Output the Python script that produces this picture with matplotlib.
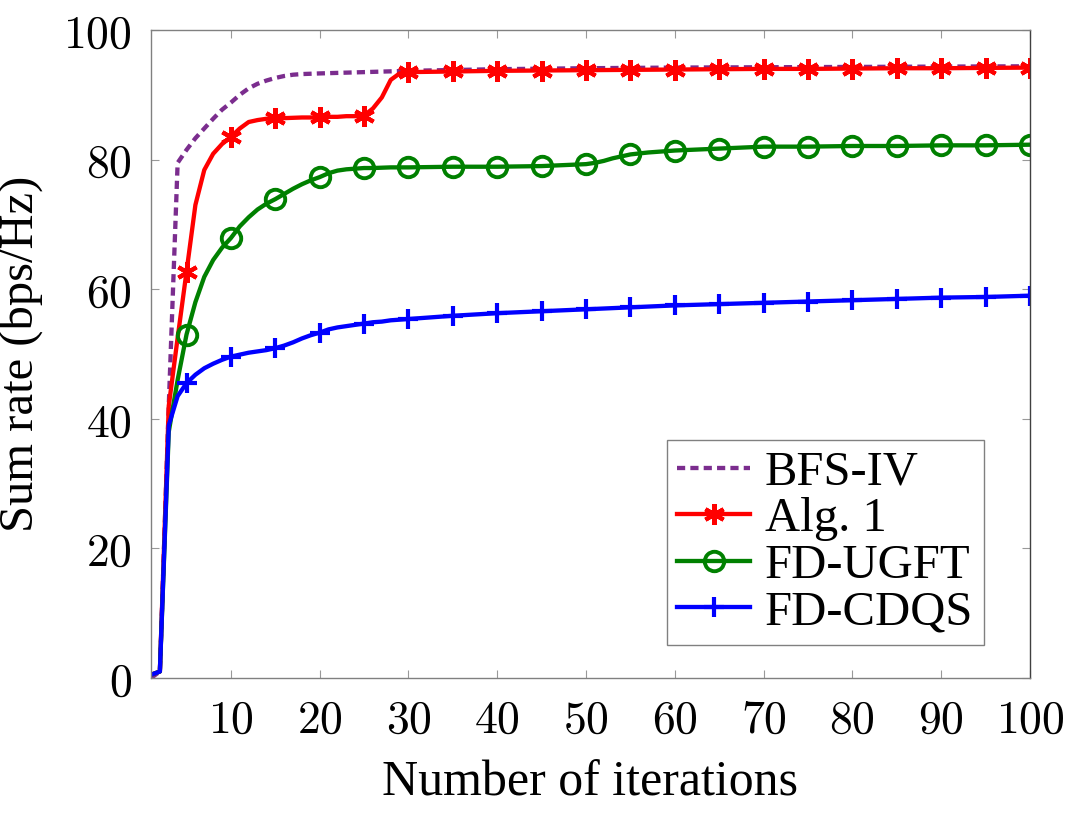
import matplotlib
matplotlib.use("Agg")
import matplotlib.pyplot as plt
import numpy as np

# ---------------- data ----------------
bfs_x = [1, 2, 3, 4, 5, 6, 7, 8, 9, 10, 11, 12, 13, 14, 15, 16, 17, 18, 19, 20,
         25, 30, 40, 50, 60, 70, 80, 90, 100]
bfs_y = [0.0, 1.0, 42.0, 79.5, 81.5, 83.3, 84.8, 86.3, 87.7, 88.8, 90.0, 91.0, 91.7, 92.2, 92.6,
         92.9, 93.1, 93.2, 93.25, 93.3, 93.5, 93.7, 93.95, 94.1, 94.2, 94.25, 94.3, 94.35, 94.4]

alg_x = list(range(1, 31)) + [35, 40, 45, 50, 55, 60, 65, 70, 75, 80, 85, 90, 95, 100]
alg_y = [0.5, 1.0, 42.0, 52.5, 62.7, 73.0, 78.4, 80.9, 82.4, 83.5,
         84.8, 85.8, 86.1, 86.3, 86.4, 86.4, 86.45, 86.5, 86.5, 86.5,
         86.6, 86.6, 86.7, 86.7, 86.8, 87.9, 89.6, 92.3, 93.3, 93.5,
         93.6, 93.7, 93.75, 93.8, 93.85, 93.9, 93.95, 94.0, 94.0, 94.05, 94.1, 94.1, 94.15, 94.2]

ugft_x = list(range(1, 31)) + [35, 40, 45, 50, 51, 52, 53, 54, 55, 57, 60, 65, 70, 75, 80, 85, 90, 95, 100]
ugft_y = [0.5, 1.0, 38.0, 46.0, 53.0, 58.0, 61.9, 64.5, 66.4, 67.9,
          69.7, 71.1, 72.3, 73.2, 73.9, 74.7, 75.5, 76.2, 76.8, 77.3,
          77.9, 78.3, 78.5, 78.6, 78.7, 78.7, 78.75, 78.8, 78.8, 78.8,
          78.9, 78.9, 79.0, 79.3, 79.5, 79.8, 80.2, 80.5, 80.8, 81.1, 81.4, 81.7,
          82.0, 82.0, 82.1, 82.1, 82.2, 82.2, 82.3]

cdqs_x = list(range(1, 31)) + [35, 40, 45, 50, 55, 60, 65, 70, 75, 80, 85, 90, 95, 100]
cdqs_y = [0.5, 1.0, 39.0, 43.5, 45.5, 46.8, 47.8, 48.5, 49.1, 49.6,
          49.9, 50.2, 50.4, 50.6, 50.9, 51.3, 51.8, 52.4, 52.9, 53.3,
          53.8, 54.1, 54.3, 54.5, 54.7, 54.9, 55.0, 55.2, 55.3, 55.4,
          55.9, 56.3, 56.6, 56.9, 57.2, 57.5, 57.7, 57.9, 58.1, 58.3, 58.5, 58.7, 58.8, 59.0]

labels = ["BFS-IV", "Alg. 1", "FD-UGFT", "FD-CDQS"]
xticks = [10, 20, 30, 40, 50, 60, 70, 80, 90, 100]
yticks = [0, 20, 40, 60, 80, 100]

# ---------------- style ----------------
plt.rcParams["mathtext.fontset"] = "cm"
SERIF = ["Liberation Serif", "DejaVu Serif"]

fig = plt.figure(figsize=(10.69, 8.17), dpi=100)
ax = fig.add_axes([151 / 1069, 1 - 678 / 817, (1030 - 151) / 1069, (678 - 30) / 817])

def mark_idx(xs):
    return [i for i, v in enumerate(xs) if v % 5 == 0]

lw = 3.1
ax.plot(bfs_x, bfs_y, color="#7B2D8E", lw=lw, linestyle=(0, (1.9, 1.2)),
        label=labels[0])
ax.plot(alg_x, alg_y, color="#FF0000", lw=lw, marker=(6, 2, 0), markersize=15,
        mew=3.0, markevery=mark_idx(alg_x), label=labels[1])
ax.plot(ugft_x, ugft_y, color="#008000", lw=lw, marker="o", markersize=14,
        mfc="none", mew=2.8, markevery=mark_idx(ugft_x), label=labels[2])
ax.plot(cdqs_x, cdqs_y, color="#0000FF", lw=lw, marker="+", markersize=15,
        mew=3.0, markevery=mark_idx(cdqs_x), label=labels[3])

ax.set_xlim(1, 100)
ax.set_ylim(0, 100)
ax.set_xticks(xticks)
ax.set_yticks(yticks)
ax.set_xticklabels([f"${t}$" for t in xticks])
ax.set_yticklabels([f"${t}$" for t in yticks])
ax.tick_params(axis="both", direction="in", length=6, width=0.8, color="#999999",
               top=True, right=True, labelsize=33, pad=14)

for name, sp in ax.spines.items():
    sp.set_color("#808080")
    sp.set_linewidth(1.0)
ax.spines["right"].set_color("#404040")

ax.set_xlabel("Number of iterations", fontsize=36, family=SERIF, labelpad=13)
ax.set_ylabel("Sum rate (bps/Hz)", fontsize=35, family=SERIF, labelpad=14)

leg = ax.legend(loc="lower right", bbox_to_anchor=(1 - 46 / 879, 33 / 648),
                prop={"family": SERIF, "size": 35}, frameon=True, fancybox=False,
                edgecolor="#808080", framealpha=1.0, handlelength=1.5,
                handletextpad=0.3, labelspacing=0.05, borderpad=0.22, borderaxespad=0.0)
leg.get_frame().set_linewidth(1.0)

fig.savefig("out.png", dpi=100)
